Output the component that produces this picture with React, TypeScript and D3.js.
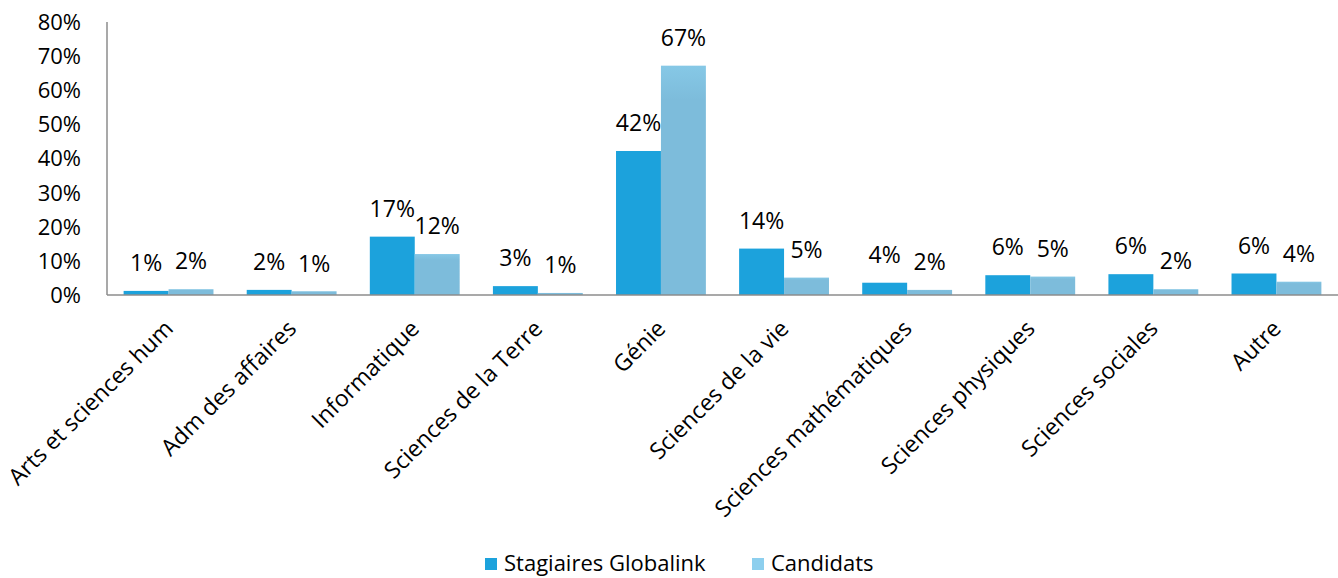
import React from 'react';
import * as d3 from 'd3';

const categories = [
  'Arts et sciences hum',
  'Adm des affaires',
  'Informatique',
  'Sciences de la Terre',
  'Génie',
  'Sciences de la vie',
  'Sciences mathématiques',
  'Sciences physiques',
  'Sciences sociales',
  'Autre',
];
const seriesNames = ['Stagiaires Globalink', 'Candidats'];
const stagiaires = [1.2, 1.5, 17.1, 2.6, 42.2, 13.6, 3.6, 5.8, 6.1, 6.3];
const candidats = [1.7, 1.1, 12.0, 0.6, 67.2, 5.1, 1.5, 5.4, 1.7, 3.9];
const yTicks = [0, 10, 20, 30, 40, 50, 60, 70, 80];

const W = 1338;
const H = 578;
const margin = { top: 22, right: 0, bottom: 283, left: 107 };
const font = "'Open Sans', sans-serif";
const colors = ['#1ca2dc', '#7dbcdb'];
const legendColors = ['#1ca2dc', '#8dcfee'];

export default function App() {
  const x = d3
    .scaleBand<string>()
    .domain(categories)
    .range([margin.left, W - margin.right])
    .paddingInner(0)
    .paddingOuter(0);
  const y = d3.scaleLinear().domain([0, 80]).range([H - margin.bottom, margin.top]);
  const barW = x.bandwidth() * 0.365;
  const y0 = y(0);

  const series = [stagiaires, candidats];

  return (
    <svg
      width={W}
      height={H}
      style={{ position: 'absolute', left: 0, top: 0, background: '#fff' }}
      fontFamily={font}
    >
      <defs>
        <linearGradient id="candGrad" x1="0" y1="0" x2="0" y2="1">
          <stop offset="0%" stopColor="#86c8e6" />
          <stop offset="15%" stopColor="#7dbcdb" />
          <stop offset="100%" stopColor="#7dbcdb" />
        </linearGradient>
      </defs>

      {/* y axis labels */}
      {yTicks.map(t => (
        <text
          key={t}
          x={81}
          y={y(t)}
          dy="0.36em"
          textAnchor="end"
          fontSize={22}
          fill="#000"
        >
          {t}%
        </text>
      ))}

      {/* bars */}
      {categories.map((c, i) => {
        const cx = (x(c) as number) + x.bandwidth() / 2;
        return series.map((vals, s) => {
          const bx = s === 0 ? cx - barW : cx;
          const top = y(vals[i]);
          return (
            <g key={c + s}>
              <rect
                x={bx}
                y={top}
                width={barW}
                height={y0 - top}
                fill={s === 0 ? colors[0] : 'url(#candGrad)'}
              />
              <text
                x={bx + barW / 2}
                y={top - 28}
                dy="0.36em"
                textAnchor="middle"
                fontSize={23}
                fill="#000"
              >
                {Math.round(vals[i])}%
              </text>
            </g>
          );
        });
      })}

      {/* axes lines */}
      <line x1={margin.left} x2={margin.left} y1={margin.top} y2={y0} stroke="#8c8c8c" strokeWidth={1.5} />
      <line x1={margin.left} x2={W} y1={y0} y2={y0} stroke="#8c8c8c" strokeWidth={1.5} />

      {/* category labels */}
      {categories.map(c => {
        const cx = (x(c) as number) + x.bandwidth() / 2;
        return (
          <text
            key={c}
            transform={`translate(${cx + 6},${y0 + 35}) rotate(-45)`}
            textAnchor="end"
            fontSize={23}
            fill="#000"
          >
            {c}
          </text>
        );
      })}

      {/* legend */}
      {seriesNames.map((n, i) => {
        const lx = i === 0 ? 485 : 752;
        return (
          <g key={n}>
            <rect x={lx} y={558} width={12} height={12} fill={legendColors[i]} />
            <text x={lx + 19} y={571} fontSize={22} fill="#000">
              {n}
            </text>
          </g>
        );
      })}
    </svg>
  );
}
